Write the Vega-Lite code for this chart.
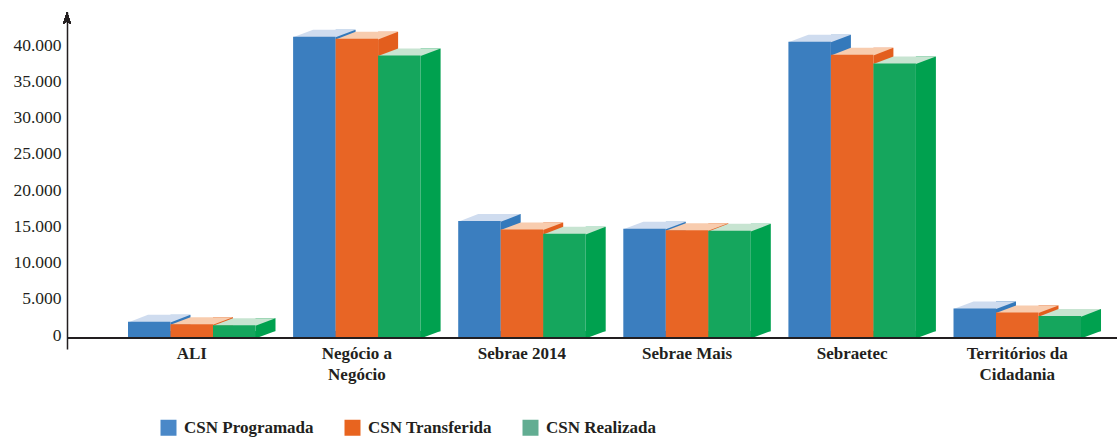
{
  "$schema": "https://vega.github.io/schema/vega-lite/v6.json",
  "width": 1050,
  "height": 337,
  "autosize": {"type": "none"},
  "padding": {"left": 67, "top": 12, "right": 0, "bottom": 88},
  "background": "#ffffff",
  "config": {
    "view": {"stroke": null},
    "axis": {"grid": false, "ticks": false, "title": null},
    "axisY": {
      "labelFont": "Liberation Serif", "labelFontSize": 17.5, "labelColor": "#231F20",
      "domainColor": "#231F20", "domainWidth": 1.5, "labelPadding": 6, "labelOffset": -3
    },
    "axisX": {
      "labelFont": "Liberation Serif", "labelFontSize": 17, "labelFontWeight": "bold", "labelColor": "#231F20",
      "domain": false, "labelPadding": -4, "labelLineHeight": 21, "labelAngle": 0, "labelBaseline": "top"
    }
  },
  "data": {
    "values": [
      {"programa": "ALI", "serie": "CSN Programada", "valor": 2250},
      {"programa": "ALI", "serie": "CSN Transferida", "valor": 1930},
      {"programa": "ALI", "serie": "CSN Realizada", "valor": 1790},
      {"programa": "Negócio a Negócio", "serie": "CSN Programada", "valor": 41600},
      {"programa": "Negócio a Negócio", "serie": "CSN Transferida", "valor": 41300},
      {"programa": "Negócio a Negócio", "serie": "CSN Realizada", "valor": 39000},
      {"programa": "Sebrae 2014", "serie": "CSN Programada", "valor": 16150},
      {"programa": "Sebrae 2014", "serie": "CSN Transferida", "valor": 15000},
      {"programa": "Sebrae 2014", "serie": "CSN Realizada", "valor": 14400},
      {"programa": "Sebrae Mais", "serie": "CSN Programada", "valor": 15100},
      {"programa": "Sebrae Mais", "serie": "CSN Transferida", "valor": 14900},
      {"programa": "Sebrae Mais", "serie": "CSN Realizada", "valor": 14800},
      {"programa": "Sebraetec", "serie": "CSN Programada", "valor": 40900},
      {"programa": "Sebraetec", "serie": "CSN Transferida", "valor": 39100},
      {"programa": "Sebraetec", "serie": "CSN Realizada", "valor": 37900},
      {"programa": "Territórios da Cidadania", "serie": "CSN Programada", "valor": 4100},
      {"programa": "Territórios da Cidadania", "serie": "CSN Transferida", "valor": 3550},
      {"programa": "Territórios da Cidadania", "serie": "CSN Realizada", "valor": 3040}
    ]
  },
  "encoding": {
    "x": {
      "field": "programa", "type": "nominal", "sort": null, "title": null,
      "scale": {"paddingInner": 0.2277, "paddingOuter": 0.2937, "align": 0.629},
      "axis": {"labelFont": "Liberation Serif", "labelFontSize": 17, "labelFontWeight": "bold",
               "labelExpr": "length(datum.label) > 12 ? [slice(datum.label, 0, lastindexof(datum.label, ' ')), slice(datum.label, lastindexof(datum.label, ' ') + 1)] : datum.label"}
    },
    "xOffset": {
      "field": "serie", "type": "nominal",
      "scale": {"type": "band", "domain": ["CSN Programada", "CSN Transferida", "CSN Realizada"], "paddingInner": 0, "paddingOuter": 0}
    }
  },
  "resolve": {"scale": {"color": "independent", "xOffset": "independent"}},
  "layer": [
    {
      "mark": {"type": "bar", "width": 20, "yOffset": -7, "y2Offset": -7},
      "encoding": {
        "xOffset": {
          "field": "serie", "type": "nominal",
          "scale": {"type": "band", "domain": ["CSN Programada", "CSN Transferida", "CSN Realizada"], "paddingInner": 0, "paddingOuter": 0, "range": [31.25, 158.75]}
        },
        "y": {"field": "valor", "type": "quantitative", "title": null,
              "scale": {"domain": [-1500, 45000], "nice": false},
              "axis": {"values": [0, 5000, 10000, 15000, 20000, 25000, 30000, 35000, 40000], "labelFont": "Liberation Serif", "labelFontSize": 17.5, "labelExpr": "replace(format(datum.value, ','), ',', '.')"}},
        "y2": {"datum": 0},
        "color": {"field": "serie", "type": "nominal", "legend": null,
                  "scale": {"domain": ["CSN Programada", "CSN Transferida", "CSN Realizada"], "range": ["#3479BB", "#E35E1E", "#00A14F"]}}
      }
    },
    {
      "mark": {"type": "point", "filled": true, "opacity": 1, "strokeWidth": 0, "size": 3844,
               "shape": "M0.66,0.02L0.66,-0.232L1.33,-0.226Z"},
      "encoding": {
        "y": {"datum": 0, "type": "quantitative"},
        "color": {"field": "serie", "type": "nominal", "legend": null,
                  "scale": {"domain": ["CSN Programada", "CSN Transferida", "CSN Realizada"], "range": ["#3479BB", "#E35E1E", "#00A14F"]}}
      }
    },
    {
      "mark": {"type": "point", "filled": true, "opacity": 1, "strokeWidth": 0, "size": 3844,
               "shape": "M-0.685,0.02L-0.04,-0.226L1.33,-0.226L0.685,0.02Z"},
      "encoding": {
        "y": {"field": "valor", "type": "quantitative", "title": null},
        "color": {"field": "serie", "type": "nominal", "legend": null,
                  "scale": {"domain": ["CSN Programada", "CSN Transferida", "CSN Realizada"], "range": ["#CFDCEF", "#F8CCAE", "#C7E4D1"]}}
      }
    },
    {
      "mark": {"type": "bar"},
      "encoding": {
        "y": {"field": "valor", "type": "quantitative", "title": null},
        "y2": {"datum": 0},
        "color": {"field": "serie", "type": "nominal", "legend": null,
                  "scale": {"domain": ["CSN Programada", "CSN Transferida", "CSN Realizada"], "range": ["#3B7EBF", "#E86525", "#15A65D"]}}
      }
    },
    {
      "mark": {"type": "point", "filled": true, "opacity": 0, "shape": "square"},
      "encoding": {
        "y": {"field": "valor", "type": "quantitative", "title": null},
        "color": {"field": "serie", "type": "nominal",
                  "scale": {"domain": ["CSN Programada", "CSN Transferida", "CSN Realizada"], "range": ["#4A88C8", "#E8641F", "#62AD92"]},
                  "legend": {"orient": "none", "legendX": 93, "legendY": 407, "direction": "horizontal", "title": null,
                             "symbolType": "square", "symbolSize": 256, "symbolOpacity": 1, "symbolStrokeWidth": 0,
                             "labelFont": "Liberation Serif", "labelFontSize": 17, "labelFontWeight": "bold", "labelColor": "#231F20",
                             "labelOffset": 7, "columnPadding": 30, "labelLimit": 300}}
      }
    },
    {
      "mark": {"type": "rule", "color": "#231F20", "strokeWidth": 1.5},
      "encoding": {"y": {"datum": 0, "type": "quantitative"}, "x": null, "xOffset": null}
    },
    {
      "mark": {"type": "point", "filled": true, "color": "#231F20", "opacity": 1, "strokeWidth": 0, "size": 576,
               "shape": "M0,0L0.33,1L0,0.8L-0.33,1Z"},
      "encoding": {"y": {"datum": 45000, "type": "quantitative"}, "x": {"value": 0}, "xOffset": null}
    }
  ]
}
